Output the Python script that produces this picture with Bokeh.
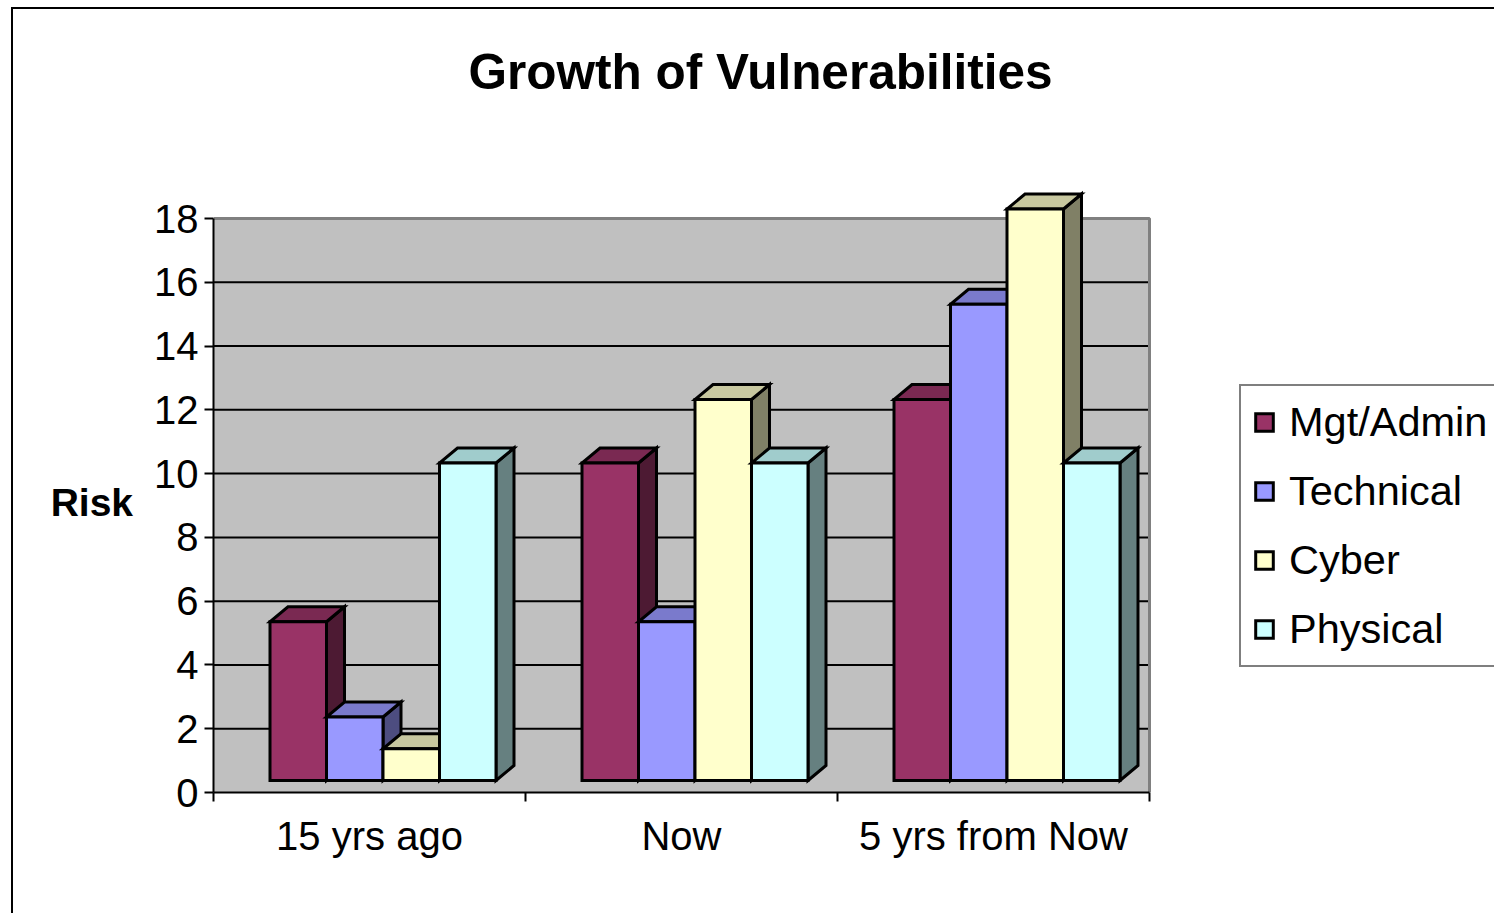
from bokeh.plotting import figure
from bokeh.models import FixedTicker, Range1d, Label, Legend, LegendItem
from bokeh.embed import file_html
from bokeh.resources import INLINE

# ---------------- data ----------------
TITLE = "Growth of Vulnerabilities"
Y_LABEL = "Risk"
CATEGORIES = ["15 yrs ago", "Now", "5 yrs from Now"]
SERIES = ["Mgt/Admin", "Technical", "Cyber", "Physical"]
MGT_ADMIN = [5, 10, 12]
TECHNICAL = [2, 5, 15]
CYBER = [1, 12, 18]
PHYSICAL = [10, 10, 10]
Y_TICKS = [0, 2, 4, 6, 8, 10, 12, 14, 16, 18]

VALUES = [MGT_ADMIN, TECHNICAL, CYBER, PHYSICAL]
FRONT = ["#993366", "#9999FF", "#FFFFCC", "#CCFFFF"]
TOP = ["#7A2952", "#7A7ACC", "#C8C8A0", "#A0CCCC"]
SIDE = ["#4D1A33", "#4D4D80", "#808066", "#668080"]

FONT = "Liberation Sans"

# ---------------- geometry (page pixels) ----------------
PAGE_W, PAGE_H = 1494, 913
OX, OY = 13, 9                       # canvas origin on the page (inside chart border)
W, H = PAGE_W - OX, PAGE_H - OY
FRAME_L, FRAME_B = 213, 792
WALL_R, WALL_T = 1149, 218
CAT_PX = (WALL_R - FRAME_L) / len(CATEGORIES)
UNIT_PX = (FRAME_B - WALL_T) / Y_TICKS[-1]

def dx(px):
    return px / CAT_PX

def dy(px):
    return px / UNIT_PX

def cx(px):
    return (px - FRAME_L) / CAT_PX

def cy(py):
    return (FRAME_B - py) / UNIT_PX

X_END = cx(PAGE_W)
Y_END = cy(OY)

GROUP_OFF = dx(56.5)
BAR_W = dx(56.5)
BASE = dy(12)
DEPTH_X = dx(18)
DEPTH_Y = dy(15)
BAR_SCALE = 31.75 / UNIT_PX

p = figure(width=W, height=H, x_range=Range1d(0, X_END), y_range=Range1d(0, Y_END),
           output_backend="svg", toolbar_location=None, title=None,
           min_border_left=FRAME_L - OX, min_border_right=0, min_border_top=0,
           min_border_bottom=PAGE_H - FRAME_B)
p.margin = (OY, 0, 0, OX)
p.styles = {"outline": "2px solid black"}
p.outline_line_color = None
p.background_fill_color = "white"
p.border_fill_color = "white"

ncat = len(CATEGORIES)
ymax = Y_TICKS[-1]

# back wall
p.quad(left=[0], right=[ncat], bottom=[0], top=[ymax], fill_color="#C0C0C0", line_color=None)
p.segment(x0=[0] * (len(Y_TICKS) - 2), x1=[ncat] * (len(Y_TICKS) - 2),
          y0=Y_TICKS[1:-1], y1=Y_TICKS[1:-1], line_color="black", line_width=2)
p.multi_line(xs=[[0, ncat, ncat]], ys=[[ymax, ymax, 0]], line_color="#808080", line_width=3)
p.xgrid.visible = False
p.ygrid.visible = False

# bars
legend_items = []
for j, (name, vals) in enumerate(zip(SERIES, VALUES)):
    x0 = [i + GROUP_OFF + j * BAR_W for i in range(ncat)]
    x1 = [a + BAR_W for a in x0]
    tops = [BASE + v * BAR_SCALE for v in vals]
    side_xs = [[b, b + DEPTH_X, b + DEPTH_X, b] for b in x1]
    side_ys = [[BASE, BASE + DEPTH_Y, t + DEPTH_Y, t] for t in tops]
    top_xs = [[a, b, b + DEPTH_X, a + DEPTH_X] for a, b in zip(x0, x1)]
    top_ys = [[t, t, t + DEPTH_Y, t + DEPTH_Y] for t in tops]
    p.patches(xs=side_xs, ys=side_ys, fill_color=SIDE[j], line_color="black",
              line_width=3, line_join="miter")
    p.patches(xs=top_xs, ys=top_ys, fill_color=TOP[j], line_color="black",
              line_width=3, line_join="miter")
    r = p.quad(left=x0, right=x1, bottom=[BASE] * ncat, top=tops, fill_color=FRONT[j],
               line_color="black", line_width=3, line_join="miter")
    legend_items.append(LegendItem(label=name, renderers=[r]))

# axes
ya = p.yaxis[0]
ya.ticker = FixedTicker(ticks=Y_TICKS)
ya.bounds = (Y_TICKS[0], ymax)
ya.axis_line_color = "black"
ya.axis_line_width = 2
ya.major_tick_line_color = "black"
ya.major_tick_line_width = 2
ya.major_tick_out = 9
ya.major_tick_in = 0
ya.minor_tick_line_color = None
ya.major_label_standoff = 6
ya.major_label_text_font = FONT
ya.major_label_text_font_size = "40px"
ya.major_label_text_color = "black"
# the label block is centred on the frame; blank lines above move "Risk" down
ya.axis_label = "\n\n\n\n" + Y_LABEL
ya.axis_label_orientation = "horizontal"
ya.axis_label_standoff = 18
ya.axis_label_text_line_height = 1.18
ya.axis_label_text_font = FONT
ya.axis_label_text_font_style = "bold"
ya.axis_label_text_font_size = "39px"
ya.axis_label_text_color = "black"

xa = p.xaxis[0]
centers = [i + 0.5 for i in range(ncat)]
xa.ticker = FixedTicker(ticks=centers, minor_ticks=list(range(ncat + 1)))
xa.major_label_overrides = {c: lab for c, lab in zip(centers, CATEGORIES)}
xa.bounds = (0, ncat)
xa.axis_line_color = "black"
xa.axis_line_width = 2
xa.major_tick_line_color = None
xa.major_tick_out = 0
xa.major_tick_in = 0
xa.minor_tick_line_color = "black"
xa.minor_tick_line_width = 2
xa.minor_tick_out = 9
xa.minor_tick_in = 0
xa.major_label_standoff = 12
xa.major_label_text_font = FONT
xa.major_label_text_font_size = "40px"
xa.major_label_text_color = "black"

# legend
legend = Legend(items=legend_items, location=(1239 - FRAME_L, FRAME_B - 667),
                border_line_color="black", border_line_width=2,
                background_fill_color="white", background_fill_alpha=1,
                padding=12, spacing=21, margin=0, glyph_width=22, glyph_height=22,
                label_height=46, label_standoff=14, label_text_font=FONT,
                label_text_font_size="41.5px", label_text_color="black")
p.add_layout(legend)

# title
p.add_layout(Label(x=cx(760), y=cy(71), text=TITLE, text_align="center",
                   text_baseline="alphabetic", text_font=FONT, text_font_style="bold",
                   text_font_size="49.5px", text_color="black"))

open("out.html", "w").write(file_html(p, INLINE))
